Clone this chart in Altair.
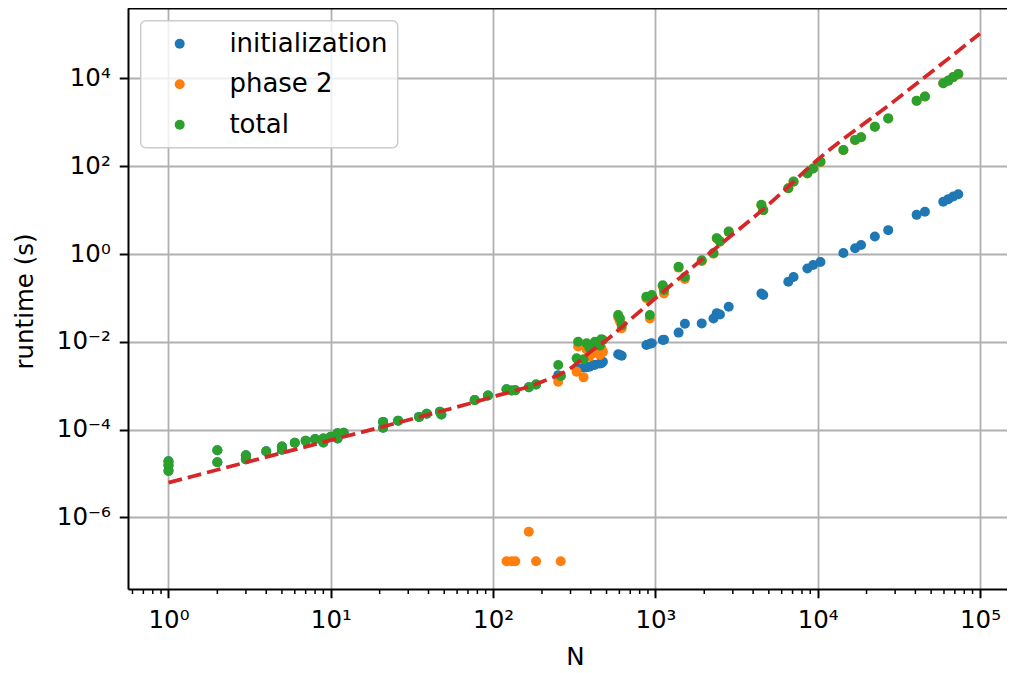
import math
import altair as alt
import pandas as pd

# ---------------- data ----------------
N = [1, 1, 1, 2, 2, 3, 3, 4, 5, 5, 6, 7, 8, 9, 9, 10, 11, 11, 12, 21, 21, 26, 35, 39, 47, 48, 77, 93,
     121, 130, 137, 166, 184, 261, 252,
     327, 334, 361, 377, 392, 414, 424, 455, 465, 475,
     590, 605, 620,
     880, 925, 950, 1110, 1130,
     1390, 1520, 1930, 2280, 2390, 2500, 2830,
     4500, 4620, 6590, 7100, 8640, 9380, 10400,
     14400, 17000, 18500, 22500, 27200, 40700, 45800,
     59400, 63800, 68400, 73500]

t_total = [1.9e-5, 1.55e-5, 1.15e-5, 3.4e-5, 1.8e-5, 2.6e-5, 2.1e-5, 3.2e-5, 4.1e-5, 3.5e-5, 5.0e-5,
           5.6e-5, 6.1e-5, 5.1e-5, 6.3e-5, 6.9e-5, 8.3e-5, 6.3e-5, 8.5e-5, 1.5e-4, 1.1e-4, 1.6e-4,
           1.95e-4, 2.3e-4, 2.55e-4, 2.2e-4, 4.7e-4, 6.0e-4,
           8.3e-4, 7.8e-4, 7.9e-4, 9.2e-4, 1.07e-3, 1.66e-3, 2.96e-3,
           4.2e-3, 1.0e-2, 4.0e-3, 9.3e-3, 7.3e-3, 8.5e-3, 1.0e-2, 8.2e-3, 1.15e-2, 1.1e-2,
           4.1e-2, 3.4e-2, 2.4e-2,
           0.107, 0.041, 0.117, 0.195, 0.151,
           0.51, 0.30, 0.72, 1.05, 2.3, 1.95, 3.24,
           13.2, 10.0, 31.6, 44.7, 69, 89, 126,
           234, 398, 457, 794, 1230, 3090, 3890,
           7760, 8910, 10720, 12590]

t_init = [1.9e-5, 1.55e-5, 1.15e-5, 3.4e-5, 1.8e-5, 2.6e-5, 2.1e-5, 3.2e-5, 4.1e-5, 3.5e-5, 5.0e-5,
          5.6e-5, 6.1e-5, 5.1e-5, 6.3e-5, 6.9e-5, 8.3e-5, 6.3e-5, 8.5e-5, 1.5e-4, 1.1e-4, 1.6e-4,
          1.95e-4, 2.3e-4, 2.55e-4, 2.2e-4, 4.7e-4, 6.0e-4,
          8.3e-4, 7.8e-4, 7.9e-4, 9.2e-4, 1.07e-3, 1.66e-3, 1.74e-3,
          2.45e-3, 2.5e-3, 2.6e-3, 2.65e-3, 2.7e-3, 2.95e-3, 3.0e-3, 3.2e-3, 3.25e-3, 3.5e-3,
          5.2e-3, 5.0e-3, 4.8e-3,
          8.5e-3, 9.0e-3, 9.3e-3, 1.1e-2, 1.12e-2,
          1.62e-2, 2.57e-2, 2.63e-2, 3.4e-2, 4.5e-2, 4.2e-2, 6.3e-2,
          0.126, 0.117, 0.234, 0.30, 0.47, 0.56, 0.66,
          1.05, 1.35, 1.6, 2.5, 3.5, 7.8, 9.2,
          15.5, 17.8, 20.4, 22.9]

t_phase2 = [None] * 28 + [
            1e-7, 1e-7, 1e-7, 4.7e-7, 1e-7, 1e-7, 1.23e-3,
            2.09e-3, 7.8e-3, 1.55e-3, 6.7e-3, 4.6e-3, 5.5e-3, 7.0e-3, 5.0e-3, 7.1e-3, 5.9e-3,
            3.6e-2, 2.9e-2, 2.04e-2,
            0.098, 0.034, 0.108, 0.184, 0.126,
            0.49, 0.27, 0.69, 1.02, 2.25, 1.9, 3.2,
            13.0, 9.9, 31.4, 44.4, 68.5, 88.4, 125,
            233, 397, 455, 792, 1227, 3080, 3880,
            7740, 8890, 10700, 12570]

# dashed model curve
line_N = [1, 10, 30, 100, 200, 300, 400, 500, 700, 1000, 2000, 5000, 10000, 30000, 100000]
line_t = [6.2e-6, 5.75e-5, 1.66e-4, 5.6e-4, 1.23e-3, 2.5e-3, 6.0e-3, 1.1e-2, 3.2e-2, 9.8e-2,
          0.83, 13.5, 141, 3160, 1.05e5]

series_names = ["initialization", "phase 2", "total"]
series_colors = ["#1f77b4", "#ff7f0e", "#2ca02c"]

x_major = [1, 10, 100, 1000, 10000, 100000]
x_major_labels = ["10⁰", "10¹", "10²", "10³", "10⁴", "10⁵"]
y_major = [1e-6, 1e-4, 1e-2, 1, 1e2, 1e4]
y_major_labels = ["10⁻⁶", "10⁻⁴", "10⁻²", "10⁰", "10²", "10⁴"]

x_domain = [0.563, 146700]
y_domain = [2.34e-8, 4.02e5]

# ---------------- build tables ----------------
rows = []
k = 0
for name, vals in zip(series_names, [t_init, t_phase2, t_total]):
    for n, v in zip(N, vals):
        if v is not None:
            rows.append({"N": n, "runtime": v, "series": name, "k": k})
            k += 1
df = pd.DataFrame(rows)
line_df = pd.DataFrame({"N": line_N, "runtime": line_t})

minor = [m * 10.0 ** e for e in range(-1, 5) for m in range(2, 10)]
minor = [v for v in minor if x_domain[0] <= v <= x_domain[1]]
minor_df = pd.DataFrame({"N": minor})


def label_expr(values, labels):
    s = ""
    for v, l in zip(values, labels):
        e = round(math.log10(v))
        s += f"round(log(datum.value)/LN10) == {e} ? '{l}' : "
    return s + "''"


W, H = 879, 581
FONT = "DejaVu Sans"
FS = 24.5
LFS = 26
MS = 100

xscale = alt.Scale(type="log", domain=x_domain, nice=False)
yscale = alt.Scale(type="log", domain=y_domain, nice=False)

xaxis = alt.Axis(values=x_major, labelExpr=label_expr(x_major, x_major_labels),
                 title="N", titleFont=FONT, titleFontSize=FS, titleFontWeight="normal",
                 titleColor="black", titleX=447, titleY=75, titleBaseline="alphabetic",
                 labelFont=FONT, labelFontSize=FS, labelColor="black",
                 labelBaseline="alphabetic", labelPadding=30,
                 labelFlush=False, labelOverlap=False,
                 tickColor="black", tickWidth=2, tickSize=8.75,
                 domainColor="black", domainWidth=2,
                 grid=True, gridColor="#b0b0b0", gridWidth=1.8)

yaxis = alt.Axis(values=y_major, labelExpr=label_expr(y_major, y_major_labels),
                 title="runtime (s)", titleFont=FONT, titleFontSize=FS, titleFontWeight="normal",
                 titleColor="black", titleAngle=270, titleX=-96, titleY=293,
                 titleBaseline="alphabetic", titleAlign="center",
                 labelFont=FONT, labelFontSize=FS, labelColor="black", labelPadding=9,
                 labelFlush=False, labelOverlap=False,
                 tickColor="black", tickWidth=2, tickSize=8.75,
                 domainColor="black", domainWidth=2,
                 grid=True, gridColor="#b0b0b0", gridWidth=1.8)

legend = alt.Legend(title=None, orient="none", legendX=12.7, legendY=12.7, padding=10,
                    symbolOffset=16, labelOffset=36.7, rowPadding=14.5,
                    labelFont=FONT, labelFontSize=LFS, labelColor="black", labelLimit=500,
                    symbolType="circle", symbolSize=MS, symbolStrokeWidth=0,
                    strokeColor="#cccccc", fillColor="rgba(255,255,255,0.8)",
                    cornerRadius=5)

points = alt.Chart(df).mark_circle(size=MS, opacity=1).encode(
    x=alt.X("N:Q", scale=xscale, axis=xaxis),
    y=alt.Y("runtime:Q", scale=yscale, axis=yaxis),
    color=alt.Color("series:N", scale=alt.Scale(domain=series_names, range=series_colors),
                    legend=legend),
    order=alt.Order("k:Q"),
)

curve = alt.Chart(line_df).mark_line(color="#d62728", strokeWidth=3.75, strokeDash=[13.9, 6],
                                      interpolate="monotone").encode(
    x=alt.X("N:Q", scale=xscale, axis=xaxis),
    y=alt.Y("runtime:Q", scale=yscale, axis=yaxis),
)

minor_ticks = alt.Chart(minor_df).mark_rule(color="black", strokeWidth=1.5).encode(
    x=alt.X("N:Q", scale=xscale, axis=xaxis),
    y=alt.value(H),
    y2=alt.value(H + 5),
)

top_spine = alt.Chart(pd.DataFrame({"a": [0]})).mark_rule(color="black", strokeWidth=2).encode(
    x=alt.value(0), x2=alt.value(W), y=alt.value(0.5),
)

chart = alt.layer(points, curve, minor_ticks, top_spine).properties(
    width=W, height=H,
    autosize=alt.AutoSizeParams(type="none"),
    padding={"left": 120, "top": 0, "right": 0, "bottom": 80},
).configure_view(stroke=None).configure_legend(strokeWidth=1.5)

chart.save("out.html", embed_options={"renderer": "svg", "actions": False})
